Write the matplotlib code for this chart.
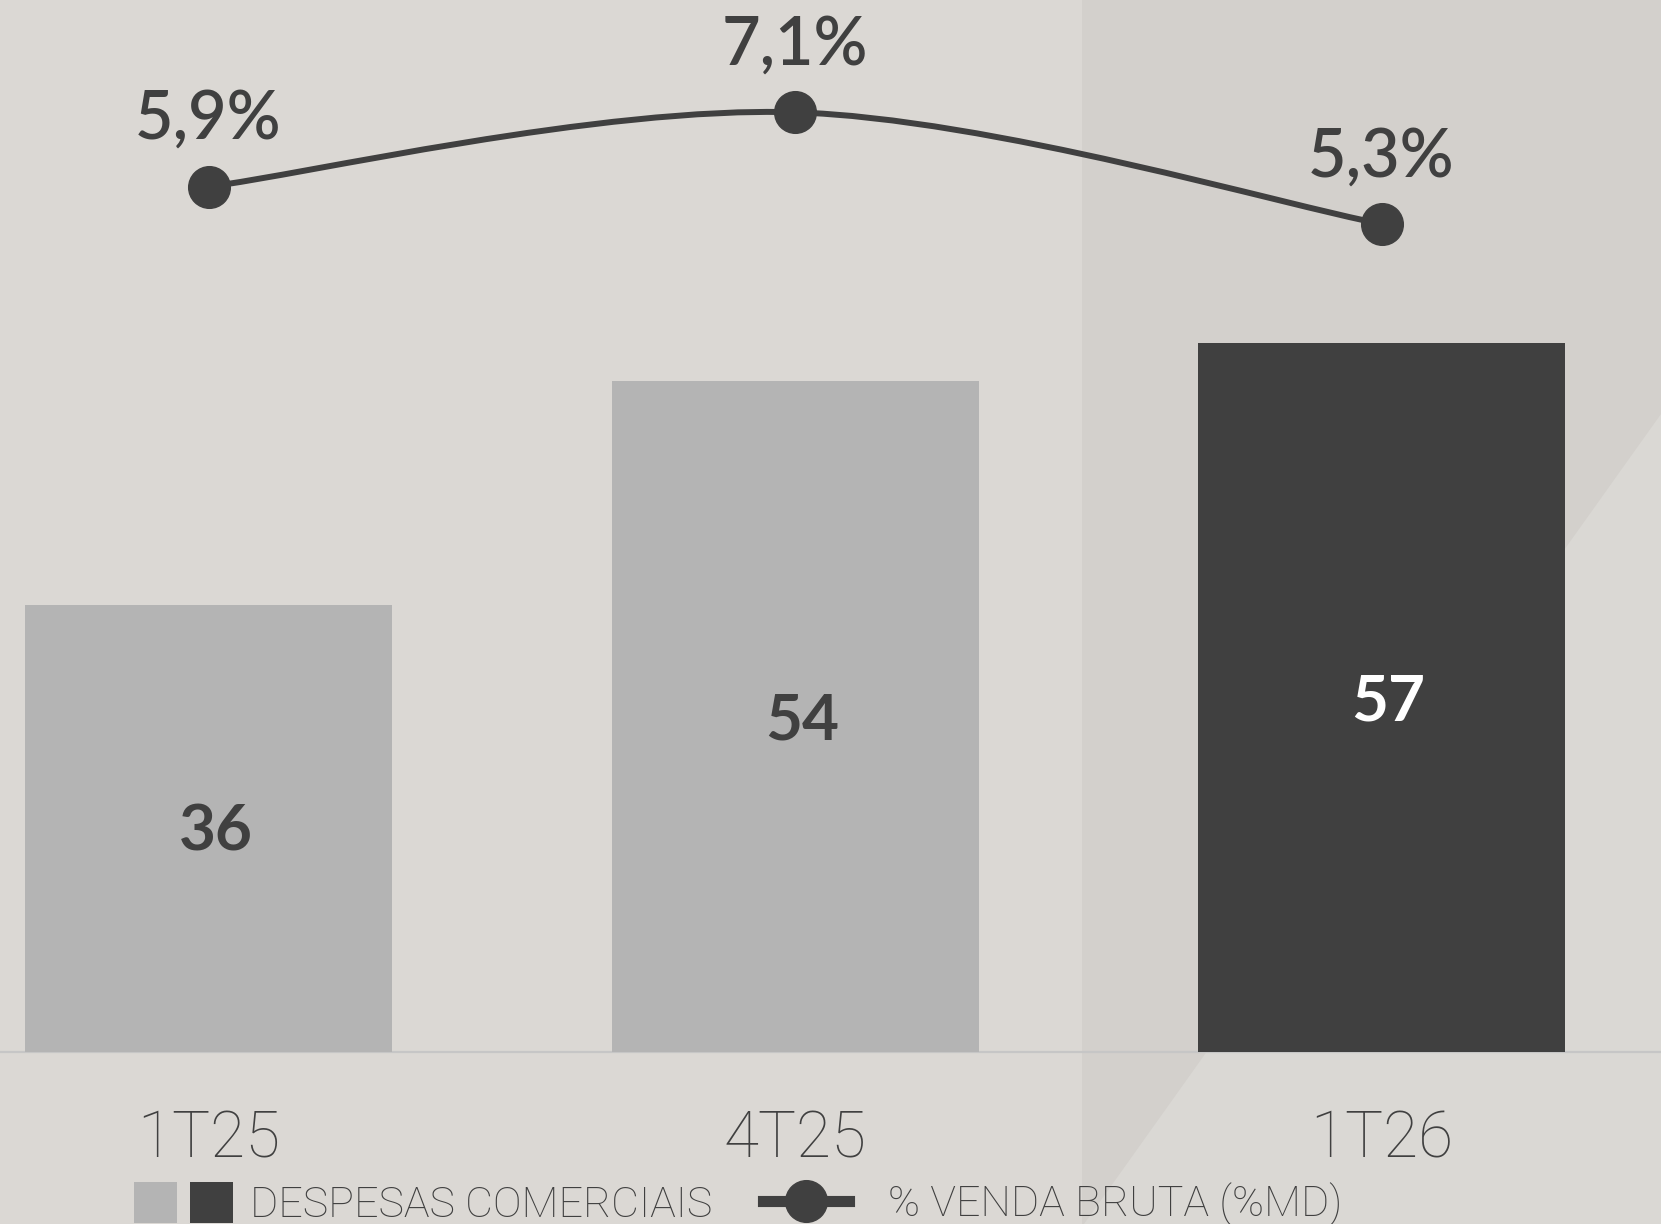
import matplotlib
matplotlib.use("Agg")
import matplotlib.pyplot as plt
from matplotlib.patches import Rectangle, Polygon
from matplotlib.path import Path
from matplotlib.patches import PathPatch
from matplotlib.lines import Line2D
from matplotlib.legend_handler import HandlerTuple
import numpy as np

# ---- data ----
categories = ["1T25", "4T25", "1T26"]
despesas = [36, 54, 57]
pct_venda = [5.9, 7.1, 5.3]
pct_labels = ["5,9%", "7,1%", "5,3%"]
bar_labels = ["36", "54", "57"]
legend_labels = ["DESPESAS COMERCIAIS", "% VENDA BRUTA (%MD)"]

# ---- style ----
W, H, DPI = 1661, 1224, 100
LIGHT = "#b4b4b4"
DARK = "#404040"
TXT = "#404040"
bar_colors = [LIGHT, LIGHT, DARK]
label_colors = [DARK, DARK, "#ffffff"]
LIGHT_FAM = ["Roboto", "Lato", "DejaVu Sans"]

fig = plt.figure(figsize=(W / DPI, H / DPI), dpi=DPI)
fig.patch.set_facecolor("#d3d0cc")

# background panels (figure pixel fractions)
fig.patches.append(Rectangle((0, 0), 1082 / W, 1, transform=fig.transFigure,
                             facecolor="#dbd8d4", edgecolor="none", zorder=-10))
fig.patches.append(Polygon([(1661 / W, 1 - 414 / H), (1, 0), (1084 / W, 0)],
                           closed=True, transform=fig.transFigure,
                           facecolor="#dad8d4", edgecolor="none", zorder=-10))

# axes geometry: x=0 at 208.5px, 586.5 px per category; y=0 at 1052px from top
px_per_cat = 586.5
x0_px = 208.5
base_px = 1052
px_per_unit = 12.43
ax = fig.add_axes([0, (H - base_px) / H, 1, base_px / H])
ax.set_xlim(-x0_px / px_per_cat, (W - x0_px) / px_per_cat)
ax.set_ylim(0, base_px / px_per_unit)
ax.patch.set_alpha(0)
for s in ax.spines.values():
    s.set_visible(False)
ax.set_yticks([])

x = np.arange(len(categories))
bars = ax.bar(x, despesas, width=367 / px_per_cat, color=bar_colors, zorder=2)
for xi, v, lab, c in zip(x, despesas, bar_labels, label_colors):
    ax.annotate(lab, (xi, v / 2), xytext=(5, -3), textcoords="offset points",
                ha="center", va="center", color=c,
                fontsize=46, fontweight="bold", family=["Lato", "DejaVu Sans"], zorder=3)

ax.axhline(0, color="#c6c6c6", lw=1.6, zorder=1, clip_on=False)

ax.set_xticks(x)
ax.set_xticklabels(categories, fontsize=46, color=TXT,
                   family=LIGHT_FAM, fontweight="light")
ax.tick_params(axis="x", length=0, pad=41)

# line axis
ax2 = ax.twinx()
slope = 62.0   # px per percentage point
a_px = 552.5   # px from top at value 0
lo = (a_px - base_px) / slope
hi = a_px / slope
ax2.set_ylim(lo, hi)
ax2.set_yticks([])
for s in ax2.spines.values():
    s.set_visible(False)

# smooth curve (Catmull-Rom -> cubic Bezier) through the data points
pts = np.column_stack([x, pct_venda]).astype(float)
ext = np.vstack([pts[0], pts, pts[-1]])
verts = [tuple(pts[0])]
codes = [Path.MOVETO]
for i in range(len(pts) - 1):
    p0, p1, p2, p3 = ext[i], ext[i + 1], ext[i + 2], ext[i + 3]
    c1 = p1 + (p2 - p0) / 6.0
    c2 = p2 - (p3 - p1) / 6.0
    verts += [tuple(c1), tuple(c2), tuple(p2)]
    codes += [Path.CURVE4] * 3
ax2.add_patch(PathPatch(Path(verts, codes), facecolor="none", edgecolor=DARK,
                        lw=4.3, capstyle="round", zorder=4))
ax2.plot(x, pct_venda, linestyle="none", marker="o", markersize=30,
         color=DARK, zorder=5)
for xi, v, lab in zip(x, pct_venda, pct_labels):
    ax2.annotate(lab, (xi, v), xytext=(0, 48), textcoords="offset points",
                 ha="center", va="center", color=TXT, fontsize=48,
                 fontweight="semibold", family=["Lato", "DejaVu Sans"])

# legends
leg_font = {"family": LIGHT_FAM, "size": 31, "weight": "light"}
h1 = (Rectangle((0, 0), 1, 1, facecolor=LIGHT, edgecolor="none"),
      Rectangle((0, 0), 1, 1, facecolor=DARK, edgecolor="none"))
leg1 = fig.legend([h1], [legend_labels[0]],
                  handler_map={tuple: HandlerTuple(ndivide=None, pad=0.3)},
                  loc="center left", bbox_to_anchor=(134 / W, 20 / H),
                  frameon=False, prop=leg_font, borderpad=0, borderaxespad=0,
                  handlelength=2.3, handleheight=1.1, handletextpad=0.4,
                  labelcolor=TXT)
h2 = Line2D([0], [0], color=DARK, lw=8, marker="o", markersize=30)
leg2 = fig.legend([h2], [legend_labels[1]], loc="center left",
                  bbox_to_anchor=(763 / W, 20 / H), frameon=False, prop=leg_font,
                  borderpad=0, borderaxespad=0, handlelength=2.0,
                  handletextpad=0.9, labelcolor=TXT)

fig.savefig("out.png", dpi=DPI, facecolor=fig.get_facecolor())
